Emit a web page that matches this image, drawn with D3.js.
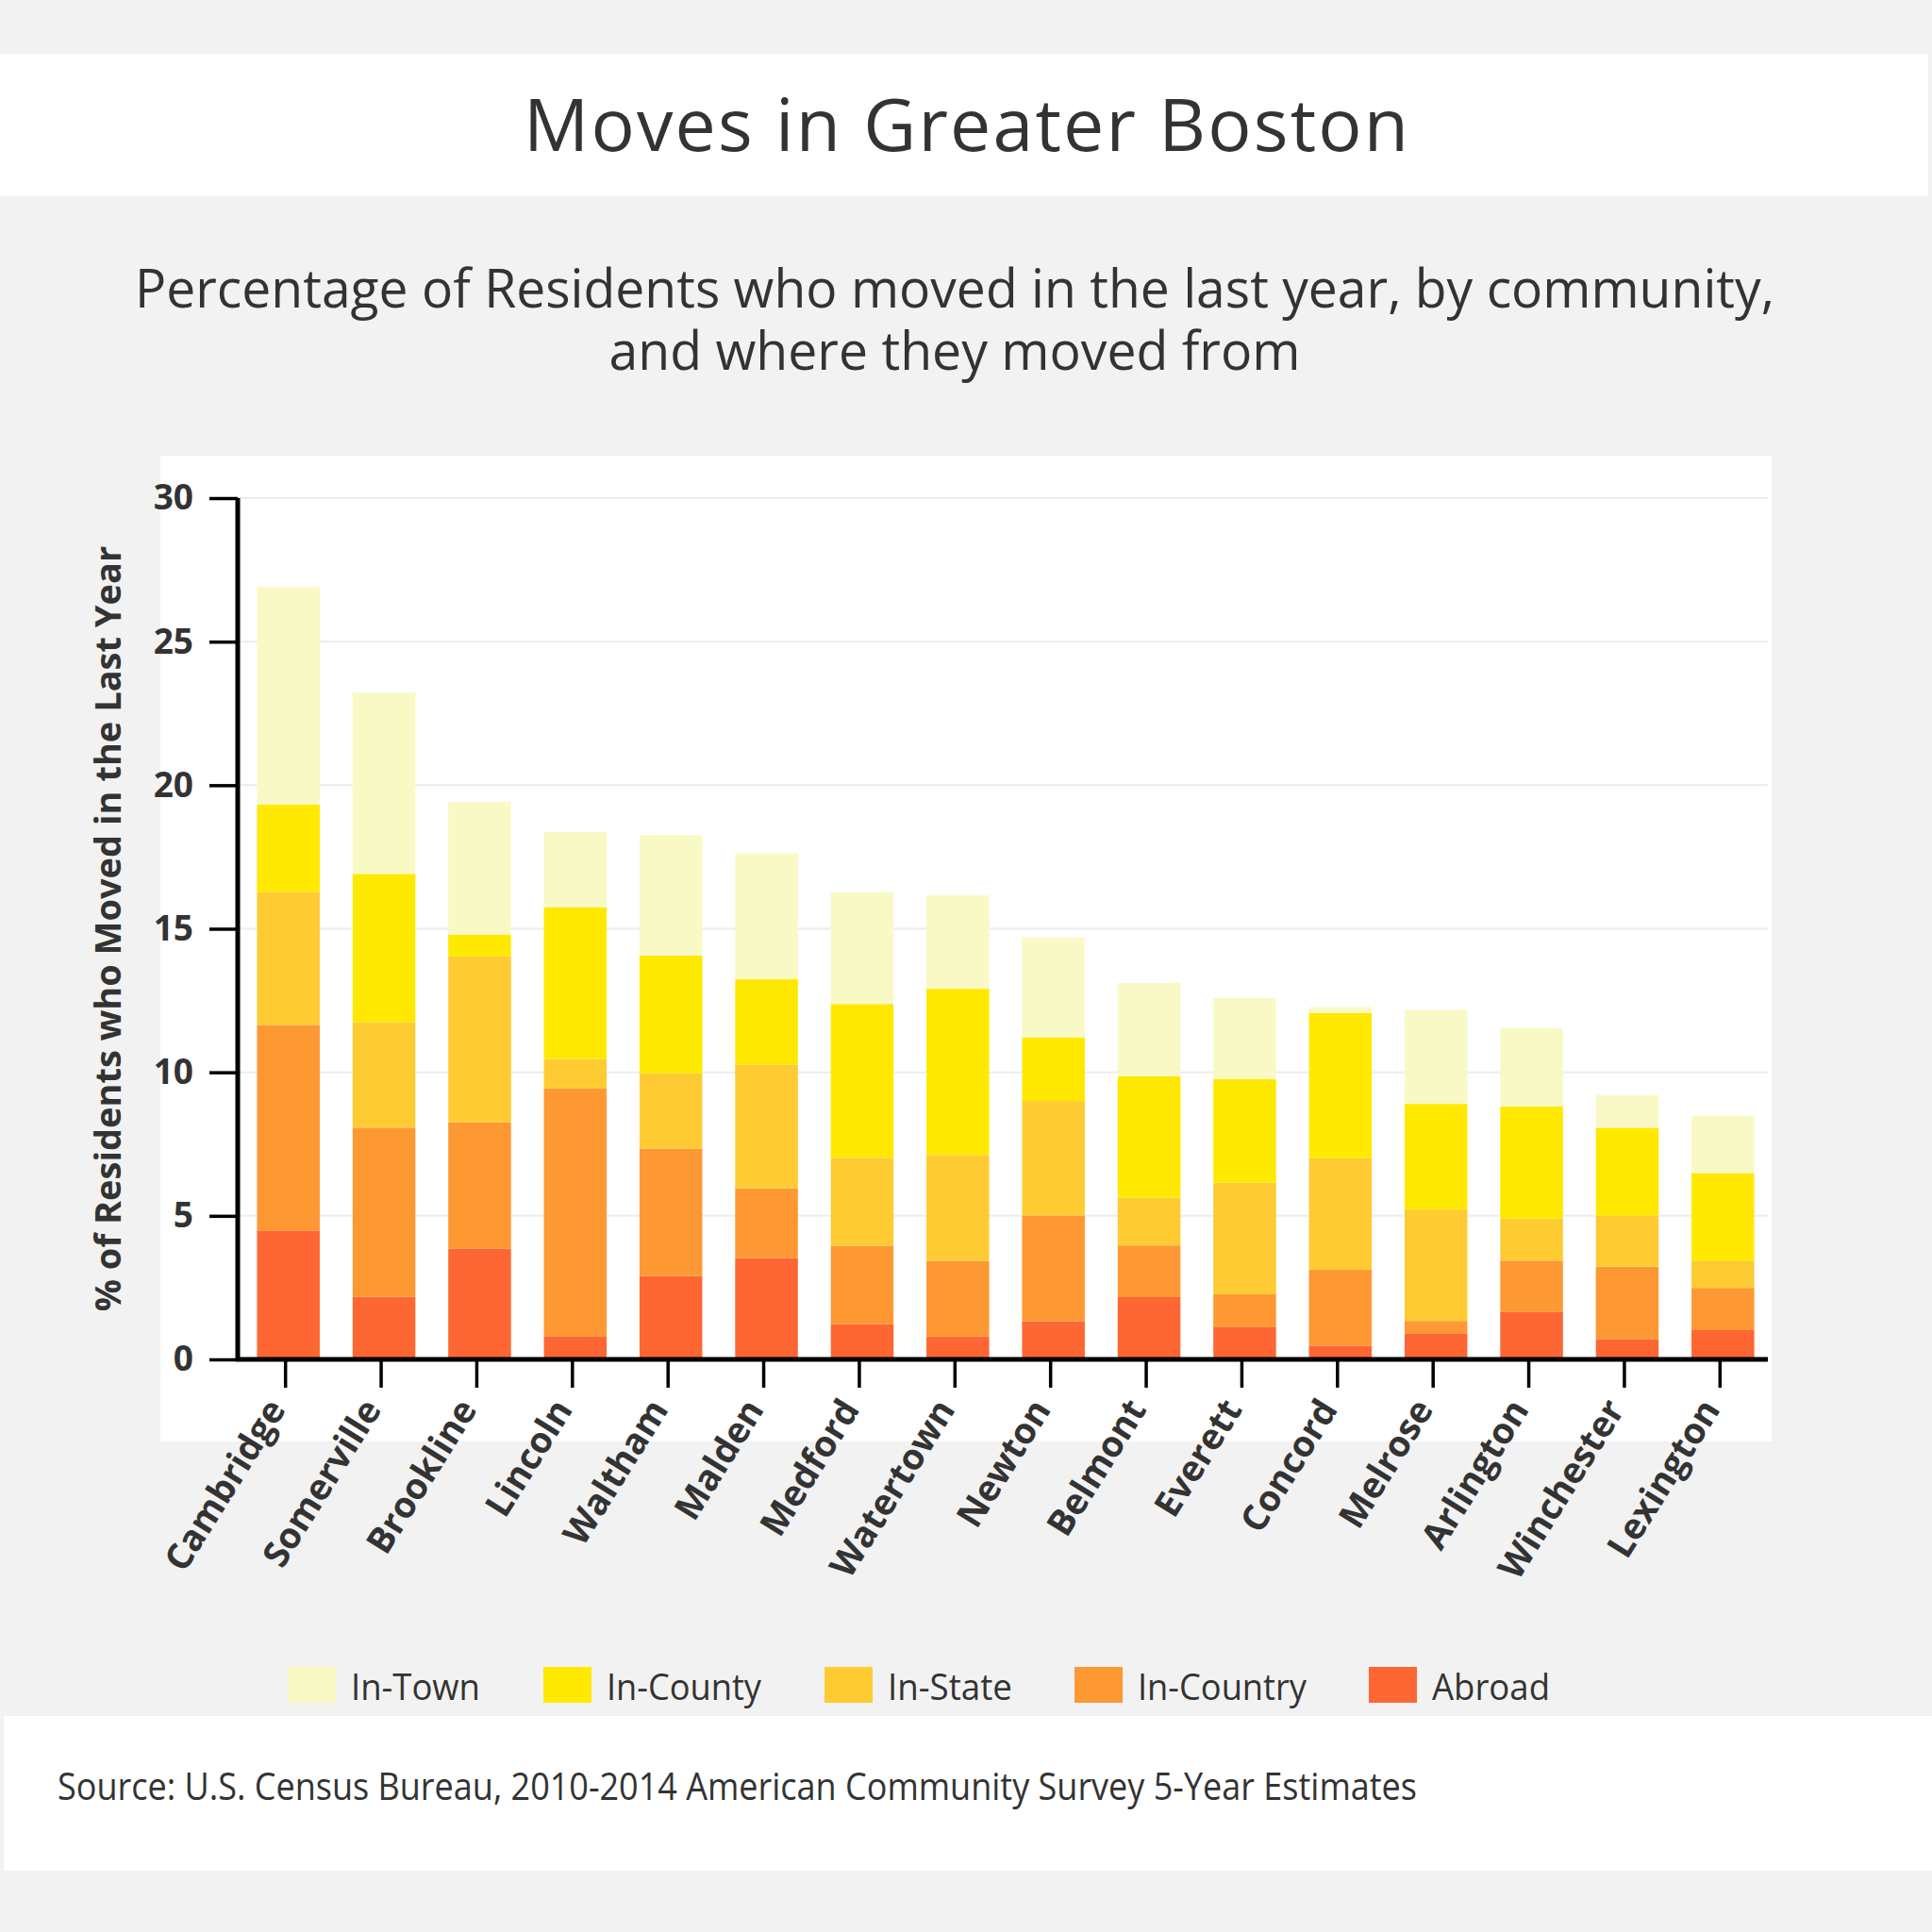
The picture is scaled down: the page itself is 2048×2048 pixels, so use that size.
<!DOCTYPE html>
<html>
<head>
<meta charset="utf-8">
<script src="https://cdn.jsdelivr.net/npm/d3@7/dist/d3.min.js"></script>
<style>
  html, body { margin: 0; padding: 0; background: #f2f2f2; }
  svg { display: block; font-family: "Open Sans", "Noto Sans", sans-serif; }
</style>
</head>
<body>
<svg id="chart" width="2048" height="2048"></svg>
<script>
// ---------------- DATA ----------------
const communities = ["Cambridge", "Somerville", "Brookline", "Lincoln", "Waltham", "Malden", "Medford", "Watertown",
                     "Newton", "Belmont", "Everett", "Concord", "Melrose", "Arlington", "Winchester", "Lexington"];
const abroad    = [4.49, 2.18, 3.86, 0.81, 2.90, 3.53, 1.23, 0.80, 1.33, 2.17, 1.12, 0.48, 0.91, 1.65, 0.71, 1.02];
const inCountry = [7.16, 5.89, 4.40, 8.63, 4.44, 2.43, 2.73, 2.63, 3.68, 1.80, 1.15, 2.64, 0.43, 1.79, 2.52, 1.47];
const inState   = [4.63, 3.68, 5.78, 1.02, 2.63, 4.31, 3.06, 3.69, 3.99, 1.66, 3.89, 3.89, 3.88, 1.47, 1.78, 0.95];
const inCounty  = [3.05, 5.16, 0.76, 5.29, 4.10, 2.97, 5.36, 5.79, 2.22, 4.23, 3.60, 5.06, 3.68, 3.90, 3.06, 3.05];
const inTown    = [7.57, 6.31, 4.61, 2.62, 4.19, 4.39, 3.89, 3.25, 3.48, 3.25, 2.83, 0.20, 3.27, 2.73, 1.14, 2.00];
const seriesNames  = ["Abroad", "In-Country", "In-State", "In-County", "In-Town"];   // stacking order, bottom -> top
const seriesValues = [abroad, inCountry, inState, inCounty, inTown];
const seriesColors = ["#fe6633", "#fd9833", "#fecb33", "#ffe900", "#f9f9c5"];
const legendOrder  = ["In-Town", "In-County", "In-State", "In-Country", "Abroad"];
const yTicks = [0, 5, 10, 15, 20, 25, 30];
const titleText = "Moves in Greater Boston";
const subtitleLines = ["Percentage of Residents who moved in the last year, by community,", "and where they moved from"];
const yTitle = "% of Residents who Moved in the Last Year";
const sourceText = "Source: U.S. Census Bureau, 2010-2014 American Community Survey 5-Year Estimates";

// ---------------- LAYOUT ----------------
const svg = d3.select("#chart");
const textColor = "#333333";
const plot = { left: 252, right: 1874, top: 528, bottom: 1441 };

// backgrounds
svg.append("rect").attr("x", 0).attr("y", 0).attr("width", 2048).attr("height", 2048).attr("fill", "#f2f2f2");
svg.append("rect").attr("x", 0).attr("y", 57).attr("width", 2044).attr("height", 151).attr("fill", "#ffffff");
svg.append("rect").attr("x", 4).attr("y", 1819).attr("width", 2044).attr("height", 164).attr("fill", "#ffffff");
svg.append("rect").attr("x", 170).attr("y", 483).attr("width", 1708).attr("height", 1045).attr("fill", "#ffffff");

// title
svg.append("text").text(titleText)
  .attr("x", 1024).attr("y", 160).attr("text-anchor", "middle")
  .attr("font-size", 77).attr("fill", textColor)
  .attr("textLength", 938).attr("lengthAdjust", "spacing");

// subtitle (one text element, two lines)
const subW = [1738, 733];
const subY = [326, 392];
const sub = svg.append("text").attr("text-anchor", "middle")
  .attr("font-size", 57).attr("fill", textColor);
subtitleLines.forEach((s, i) => {
  sub.append("tspan").text(s)
    .attr("x", 1012).attr("y", subY[i])
    .attr("textLength", subW[i]).attr("lengthAdjust", "spacingAndGlyphs");
});

// scales
const x = d3.scaleBand().domain(communities).range([plot.left, plot.right]).paddingInner(0.344).paddingOuter(0.172);
const y = d3.scaleLinear().domain([0, 30]).range([plot.bottom, plot.top]);

// gridlines
svg.append("g").selectAll("line").data(yTicks.filter(t => t > 0)).join("line")
  .attr("x1", plot.left).attr("x2", plot.right)
  .attr("y1", d => y(d)).attr("y2", d => y(d))
  .attr("stroke", "#ececec").attr("stroke-width", 2);

// stacked bars
const table = communities.map((c, i) => {
  const row = { community: c };
  seriesNames.forEach((n, k) => row[n] = seriesValues[k][i]);
  return row;
});
const stacked = d3.stack().keys(seriesNames)(table);
const barShift = 3;
svg.append("g").selectAll("g").data(stacked).join("g")
  .attr("fill", (d, i) => seriesColors[i])
  .selectAll("rect").data(d => d).join("rect")
  .attr("x", d => x(d.data.community) + barShift)
  .attr("width", x.bandwidth())
  .attr("y", d => y(d[1]))
  .attr("height", d => y(d[0]) - y(d[1]));

// y axis
const yAxis = svg.append("g").attr("transform", `translate(${plot.left},0)`)
  .call(d3.axisLeft(y).tickValues(yTicks).tickSize(30).tickPadding(17));
yAxis.select(".domain").attr("stroke", "#000").attr("stroke-width", 5).attr("d", `M0,${plot.top}V${plot.bottom}`);
yAxis.selectAll(".tick line").attr("stroke", "#000").attr("stroke-width", 3.5);
yAxis.selectAll(".tick text").attr("font-size", 37).attr("font-weight", "bold").attr("fill", textColor)
  .attr("font-family", "'Open Sans', sans-serif");

// x axis
const xAxis = svg.append("g").attr("transform", `translate(0,${plot.bottom})`)
  .call(d3.axisBottom(x).tickSize(30).tickFormat(""));
xAxis.select(".domain").attr("stroke", "#000").attr("stroke-width", 5).attr("d", `M${plot.left - 2},0H${plot.right}`);
xAxis.selectAll(".tick line").attr("stroke", "#000").attr("stroke-width", 3.5);
xAxis.selectAll(".tick").append("text")
  .text(d => d)
  .attr("transform", "translate(-10,46) rotate(-58)")
  .attr("text-anchor", "end").attr("dy", "0.35em")
  .attr("font-size", 38).attr("font-weight", "bold").attr("fill", textColor)
  .attr("font-family", "'Open Sans', sans-serif");

// y title
svg.append("text").text(yTitle)
  .attr("transform", `translate(128,${(plot.top + plot.bottom) / 2}) rotate(-90)`)
  .attr("text-anchor", "middle")
  .attr("font-size", 38).attr("font-weight", "bold").attr("fill", textColor);

// legend (item left edges and label widths measured from the layout)
const colorOf = Object.fromEntries(seriesNames.map((n, i) => [n, seriesColors[i]]));
const legendX = [305, 576, 874, 1139, 1451];
const legendW = [137, 164, 132, 179, 125];
legendOrder.forEach((name, i) => {
  svg.append("rect").attr("x", legendX[i]).attr("y", 1767).attr("width", 51).attr("height", 38).attr("fill", colorOf[name]);
  svg.append("text").text(name)
    .attr("x", legendX[i] + 67).attr("y", 1802)
    .attr("font-size", 37.5).attr("fill", textColor)
    .attr("textLength", legendW[i]).attr("lengthAdjust", "spacingAndGlyphs");
});

// source
svg.append("text").text(sourceText)
  .attr("x", 61).attr("y", 1908)
  .attr("font-size", 40).attr("fill", textColor)
  .attr("textLength", 1441).attr("lengthAdjust", "spacingAndGlyphs");
</script>
</body>
</html>
